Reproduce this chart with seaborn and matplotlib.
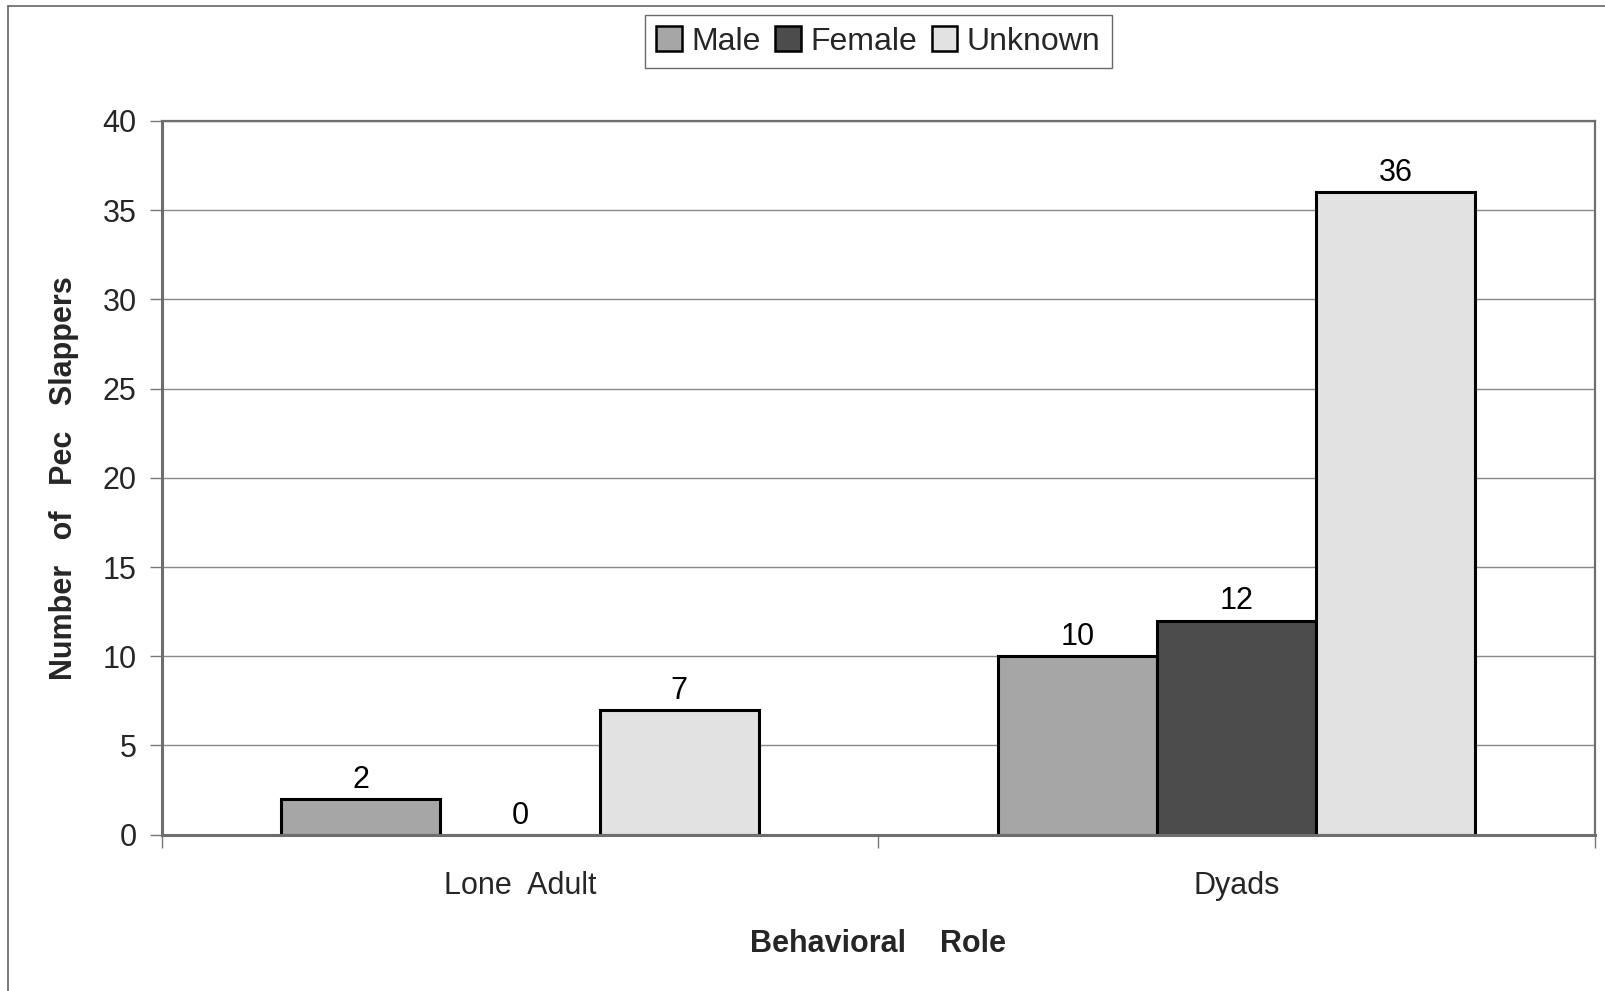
import matplotlib
matplotlib.use("Agg")
import matplotlib.pyplot as plt
from matplotlib.lines import Line2D
from matplotlib.ticker import FixedLocator
import seaborn as sns
import pandas as pd

# Pec-slap counts by behavioral role and sex
roles = ["Lone  Adult", "Dyads"]
sexes = ["Male", "Female", "Unknown"]
male = [2, 10]
female = [0, 12]
unknown = [7, 36]
y_ticks = [0, 5, 10, 15, 20, 25, 30, 35, 40]

df = pd.DataFrame({
    "role": roles * 3,
    "sex": ["Male"] * 2 + ["Female"] * 2 + ["Unknown"] * 2,
    "count": male + female + unknown,
})

sns.set_theme(style="white")
plt.rcParams["font.family"] = ["Liberation Sans", "DejaVu Sans"]

fig = plt.figure(figsize=(16.06, 9.91), dpi=100)
ax = fig.add_axes([0.1007, 0.1577, 0.8923, 0.7203])

palette = {"Male": "#a6a6a6", "Female": "#4c4c4c", "Unknown": "#e2e2e2"}
sns.barplot(data=df, x="role", y="count", hue="sex", order=roles,
            hue_order=sexes, palette=palette, width=0.667, gap=0,
            edgecolor="black", linewidth=2.2, saturation=1,
            errorbar=None, ax=ax, legend=False, zorder=3)

for cont in ax.containers:
    ax.bar_label(cont, labels=[str(int(v)) for v in cont.datavalues],
                 padding=3, fontsize=22, color="black")

ax.set_ylim(0, 40)
ax.set_xlim(-0.5, 1.5)
ax.set_yticks(y_ticks)
ax.set_yticklabels([str(t) for t in y_ticks], fontsize=22)
ax.yaxis.grid(True, color="#888888", linewidth=1.0, zorder=0)
ax.xaxis.grid(False)
ax.tick_params(axis="y", which="major", left=True, length=9, width=1,
               color="#777777", pad=9)
ax.tick_params(axis="x", which="major", length=0, pad=26, labelsize=22)
ax.xaxis.set_minor_locator(FixedLocator([-0.5, 0.5, 1.5]))
ax.tick_params(axis="x", which="minor", bottom=True, length=9, width=1,
               color="#777777")

for side, sp in ax.spines.items():
    sp.set_visible(True)
    sp.set_color("#6e6e6e")
    sp.set_linewidth(2.2 if side in ("left", "bottom") else 1.6)
    sp.set_zorder(4)

ax.set_ylabel("Number   of   Pec   Slappers", fontsize=22, fontweight="bold",
              labelpad=17)
ax.set_xlabel("Behavioral    Role", fontsize=22, fontweight="bold",
              labelpad=20)

handles = [plt.Rectangle((0, 0), 1, 1, facecolor=palette[s],
                         edgecolor="black", linewidth=1.8) for s in sexes]
fig.legend(handles, sexes, loc="center", bbox_to_anchor=(0.547, 0.958),
           ncol=3, frameon=True, fancybox=False, edgecolor="#444444",
           fontsize=23, handlelength=0.8, handleheight=0.8,
           handletextpad=0.3, columnspacing=0.45, borderpad=0.35,
           borderaxespad=0)

# outer frame lines along the left and top of the page
fig.add_artist(Line2D([0.005, 0.005], [0.0, 0.994], color="#666666",
                      linewidth=1.2, transform=fig.transFigure))
fig.add_artist(Line2D([0.005, 1.0], [0.994, 0.994], color="#666666",
                      linewidth=1.2, transform=fig.transFigure))

fig.savefig("out.png", dpi=100, facecolor="white")
